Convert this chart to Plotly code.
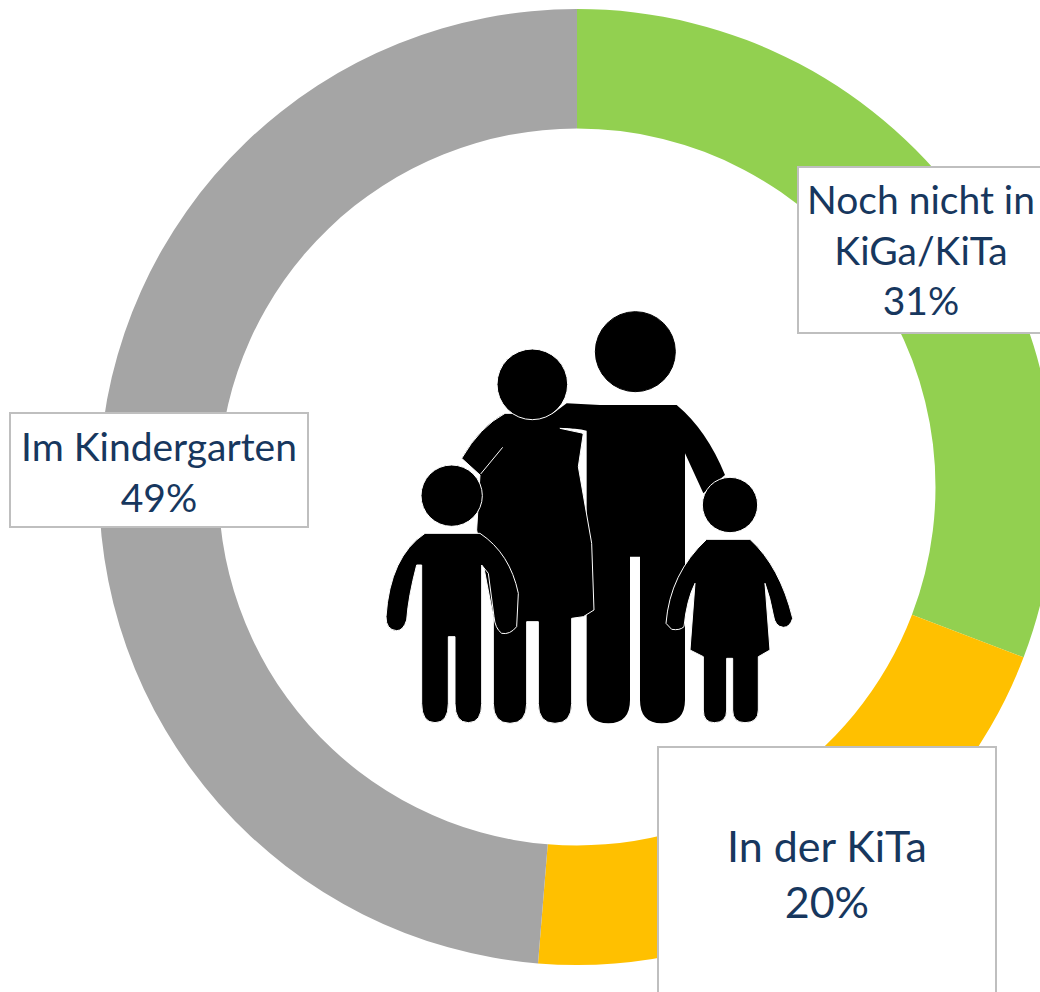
import re
import plotly.graph_objects as go

categories = ["Noch nicht in<br>KiGa/KiTa", "In der KiTa", "Im Kindergarten"]
shares = [30.8, 20.5, 48.7]
share_labels = ["31%", "20%", "49%"]
colors = ["#92D050", "#FFC000", "#A5A5A5"]

W, H = 1154, 992
TEXT = "#17375E"
FONT = "Lato"

def px(x):
    return (370 + x / 3) / W

def py(y):
    return 1 - (290 + y / 3) / H

def path(d):
    toks = re.findall(r"[MLQZ]|-?\d+\.?\d*", d)
    out, is_x = [], True
    for t in toks:
        if t in "MLQZ":
            out.append(t)
            is_x = True
        else:
            out.append(f"{px(float(t)):.5f}" if is_x else f"{py(float(t)):.5f}")
            is_x = not is_x
    return " ".join(out)

def poly(d, outline=None):
    return dict(type="path", xref="paper", yref="paper", path=path(d), fillcolor="black",
                line=dict(color=outline or "black", width=1 if outline else 0),
                layer="above")

def seam(d):
    return dict(type="path", xref="paper", yref="paper", path=path(d),
                line=dict(color="white", width=1), layer="above")

def head(cx, cy, r, outline="white"):
    return dict(type="circle", xref="paper", yref="paper", x0=px(cx - r), x1=px(cx + r),
                y0=py(cy + r), y1=py(cy - r), fillcolor="black",
                line=dict(color=outline, width=1), layer="above")

father = ("M 680 345 L 920 345 Q 1010 420 1065 555 L 1000 610 L 945 490 L 945 1230 "
          "Q 945 1300 875 1300 Q 810 1300 810 1230 L 810 800 L 780 800 L 780 1230 "
          "Q 780 1300 715 1300 Q 650 1300 650 1230 L 650 420 Z")
father_arm = "M 590 340 L 690 345 L 690 440 L 650 422 Q 620 415 570 415 L 530 385 Z"
arm_seam = "M 570 415 Q 625 415 645 435 L 645 525"
mother = ("M 405 370 L 570 370 L 570 415 L 640 430 L 625 530 "
          "L 665 760 L 672 960 L 640 980 L 605 985 L 605 1240 Q 605 1300 555 1300 "
          "Q 505 1300 505 1240 L 505 995 L 470 995 L 470 1240 Q 470 1300 420 1300 "
          "Q 370 1300 370 1240 L 370 980 L 320 720 L 330 555 L 275 505 Q 330 410 405 370 Z")
mother_arm_line = "M 398 472 L 332 552"
boy = ("M 165 730 L 330 730 Q 420 790 445 910 L 440 1010 Q 420 1035 395 1030 Q 375 1015 372 980 "
       "L 355 850 L 335 825 L 335 1240 Q 335 1298 295 1298 Q 255 1298 255 1240 L 255 1040 "
       "L 235 1040 L 235 1240 Q 235 1298 195 1298 Q 155 1298 155 1240 L 155 825 L 140 825 "
       "Q 115 920 110 990 Q 100 1022 80 1022 Q 48 1020 48 980 Q 60 800 165 730 Z")
girl = ("M 1010 748 L 1140 748 Q 1230 830 1268 985 Q 1260 1012 1240 1012 Q 1215 1010 1210 975 "
        "Q 1200 920 1185 880 L 1200 1080 L 1165 1100 L 1165 1260 Q 1165 1298 1125 1298 "
        "Q 1088 1298 1088 1260 L 1088 1105 L 1070 1105 L 1070 1260 Q 1070 1298 1033 1298 "
        "Q 1000 1298 1000 1260 L 1000 1100 L 960 1080 L 975 880 Q 950 930 942 1010 "
        "Q 930 1022 905 1018 L 888 1000 Q 900 850 1010 748 Z")

shapes = [
    poly(father),
    head(796, 185, 120, outline="black"),
    poly(mother, outline="white"),
    seam(mother_arm_line),
    poly(father_arm),
    seam(arm_seam),
    head(487, 283, 106),
    poly(boy, outline="white"),
    head(245, 617, 92),
    poly(girl, outline="white"),
    head(1080, 645, 83),
]

def label(i, x0, x1, y0, y1, size, text_y):
    box = dict(xref="paper", yref="paper", x=(x0 + x1) / 2 / W, y=1 - (y0 + y1) / 2 / H,
               xanchor="center", yanchor="middle", showarrow=False, text=" ",
               width=x1 - x0 - 2, height=y1 - y0 - 2, bgcolor="white", bordercolor="#BFBFBF",
               borderwidth=2, borderpad=0)
    txt = dict(xref="paper", yref="paper", x=(x0 + x1) / 2 / W, y=1 - text_y / H,
               xanchor="center", yanchor="middle", showarrow=False,
               text=f"{categories[i]}<br>{share_labels[i]}", align="center",
               font=dict(family=FONT, size=size, color=TEXT))
    return [box, txt]

fig = go.Figure(go.Pie(
    labels=[c.replace("<br>", " ") for c in categories], values=shares, hole=0.75, sort=False,
    direction="clockwise", rotation=0, marker=dict(colors=colors, line=dict(width=0)),
    textinfo="none", showlegend=False, hoverinfo="label+percent",
    domain=dict(x=[0, 1], y=[1 - 965 / H, 1 - 9 / H]),
))
fig.update_layout(
    width=W, height=H, margin=dict(l=0, r=0, t=0, b=0), paper_bgcolor="white",
    shapes=shapes,
    annotations=(
        label(0, 798, 1044, 167, 333, 39, 250)
        + label(1, 658, 996, 747, 1003, 43, 873)
        + label(2, 10, 308, 413, 527, 39, 471)
    ),
)
fig.write_html("out.html", config=dict(displayModeBar=False),
               post_script="document.documentElement.style.overflow='hidden';document.body.style.margin='0';document.body.style.overflow='hidden';")
